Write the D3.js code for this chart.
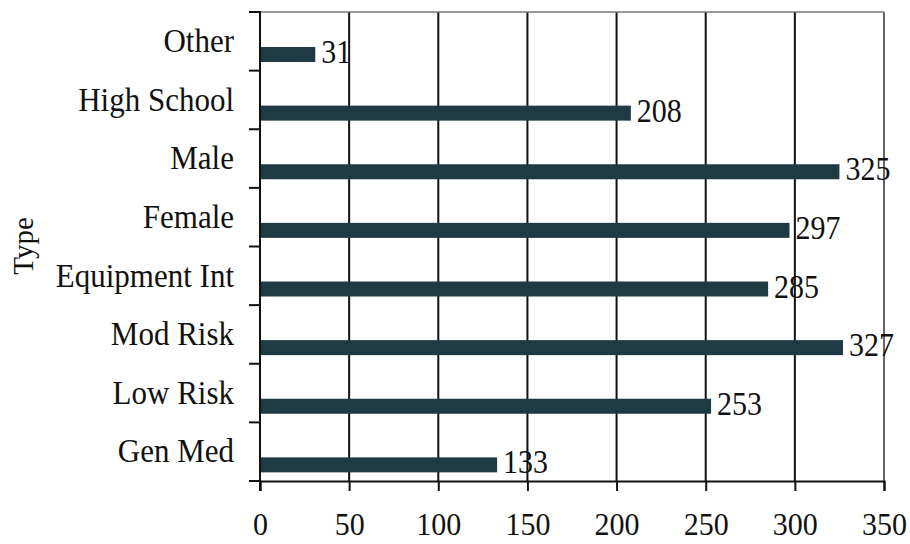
<!DOCTYPE html>
<html>
<head>
<meta charset="utf-8">
<script src="https://cdn.jsdelivr.net/npm/d3@7/dist/d3.min.js"></script>
<style>
  html, body { margin: 0; padding: 0; background: #fff; }
  svg text { font-family: "Liberation Serif", "Times New Roman", serif; fill: #111; }
</style>
</head>
<body>
<svg id="chart" width="910" height="544"></svg>
<script>
// Categories listed top to bottom, with their counts
const categories = ["Other", "High School", "Male", "Female", "Equipment Int", "Mod Risk", "Low Risk", "Gen Med"];
const counts = [31, 208, 325, 297, 285, 327, 253, 133];
const xTicks = [0, 50, 100, 150, 200, 250, 300, 350];
const axisTitle = "Type";

const svg = d3.select("#chart");
const plotLeft = 260, plotRight = 884, plotTop = 12, plotBottom = 481;

const x = d3.scaleLinear().domain([0, 350]).range([plotLeft, plotRight]);
const y = d3.scaleBand().domain(categories).range([plotTop, plotBottom]);

// vertical gridlines (the 350 line doubles as the right frame)
svg.append("g").selectAll("line").data(xTicks.slice(1)).join("line")
  .attr("x1", d => x(d)).attr("x2", d => x(d))
  .attr("y1", plotTop).attr("y2", plotBottom)
  .attr("stroke", d => d === 350 ? "#333" : "#111")
  .attr("stroke-width", d => d === 350 ? 1.5 : 2);

// top frame
svg.append("line")
  .attr("x1", plotLeft).attr("x2", plotRight).attr("y1", plotTop).attr("y2", plotTop)
  .attr("stroke", "#777").attr("stroke-width", 1.5);

// bars
const barH = 15;
const barOffset = 35;
svg.append("g").selectAll("rect").data(categories).join("rect")
  .attr("x", x(0))
  .attr("y", d => y(d) + barOffset)
  .attr("width", (d, i) => x(counts[i]) - x(0))
  .attr("height", barH)
  .attr("fill", "#1e3a42");

// value labels (slightly tall serif lettering)
svg.append("g").selectAll("text").data(categories).join("text")
  .attr("transform", (d, i) => `translate(${x(counts[i]) + 6},${y(d) + barOffset + barH + 1}) scale(1,1.1)`)
  .attr("font-size", 30)
  .text((d, i) => counts[i]);

// y axis line
svg.append("line")
  .attr("x1", plotLeft).attr("x2", plotLeft).attr("y1", plotTop - 1).attr("y2", plotBottom + 10)
  .attr("stroke", "#111").attr("stroke-width", 2);

// y tick marks at band boundaries
const yBounds = categories.map(d => y(d)).concat([plotBottom]);
svg.append("g").selectAll("line").data(yBounds).join("line")
  .attr("x1", plotLeft - 11).attr("x2", plotLeft)
  .attr("y1", d => d).attr("y2", d => d)
  .attr("stroke", "#111").attr("stroke-width", 2);

// category labels
svg.append("g").selectAll("text").data(categories).join("text")
  .attr("transform", d => `translate(${plotLeft - 26},${y(d) + 40}) scale(1,1.1)`)
  .attr("text-anchor", "end")
  .attr("font-size", 31)
  .text(d => d);

// x axis
const xAxis = d3.axisBottom(x).tickValues(xTicks).tickSize(10).tickPadding(0);
const gx = svg.append("g").attr("transform", `translate(0,${plotBottom})`).call(xAxis);
gx.select(".domain").attr("stroke", "#111").attr("stroke-width", 2);
gx.selectAll(".tick line").attr("stroke", "#111").attr("stroke-width", 2);
gx.selectAll(".tick text")
  .attr("font-family", "Liberation Serif, Times New Roman, serif")
  .attr("font-size", 30).attr("fill", "#111")
  .attr("y", 0).attr("dy", null)
  .attr("transform", "translate(0,54) scale(1,1.08)");

// axis title
svg.append("text")
  .attr("transform", "translate(33,246) rotate(-90)")
  .attr("text-anchor", "middle")
  .attr("font-size", 29)
  .text(axisTitle);
</script>
</body>
</html>
